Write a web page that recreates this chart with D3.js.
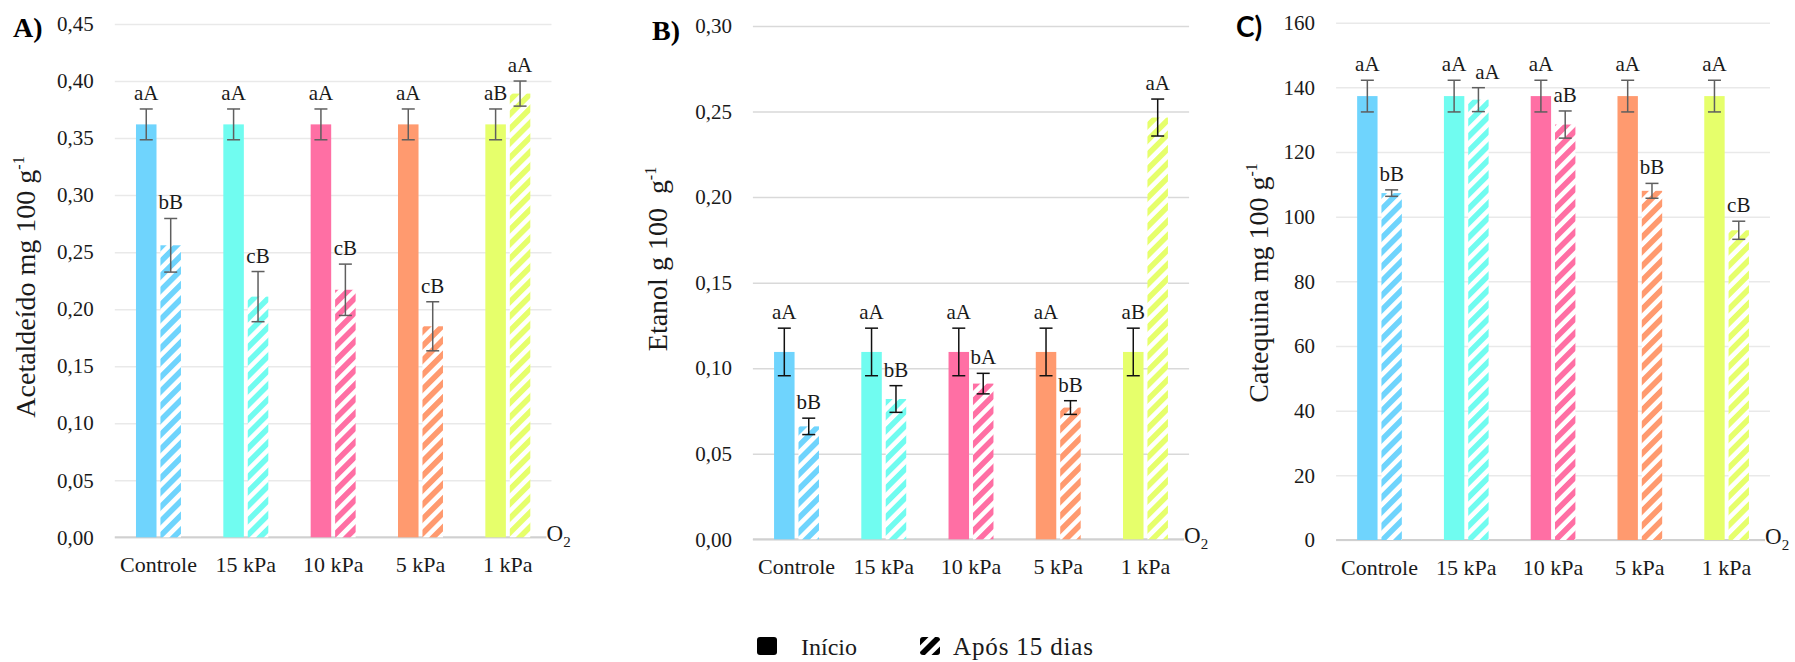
<!DOCTYPE html>
<html>
<head>
<meta charset="utf-8">
<script src="https://cdn.jsdelivr.net/npm/d3@7"></script>
<style>
  html, body { margin: 0; padding: 0; background: #fff; }
  svg text { font-family: "Liberation Serif", "Times New Roman", "DejaVu Serif", serif; }
  svg text.tag-sans { font-family: Lato, "Open Sans", sans-serif; }
</style>
</head>
<body>
<svg id="chart" width="1795" height="662"></svg>
<script>
// ---- data ----
const categories = ["Controle", "15 kPa", "10 kPa", "5 kPa", "1 kPa"];
const seriesNames = ["Início", "Após 15 dias"];
const palette = ["#6fd4fd", "#70fcf0", "#ff6fa4", "#ff9a6f", "#e6ff6b"];

// A) Acetaldeído
const acetTicks = [0, 0.05, 0.10, 0.15, 0.20, 0.25, 0.30, 0.35, 0.40, 0.45];
const acetInicio = [0.362, 0.362, 0.362, 0.362, 0.362];
const acetInicioErr = [0.0135, 0.0135, 0.0135, 0.0135, 0.0135];
const acetApos = [0.256, 0.211, 0.217, 0.185, 0.389];
const acetAposErr = [0.0235, 0.022, 0.0225, 0.0215, 0.011];
const acetInicioLetters = ["aA", "aA", "aA", "aA", "aB"];
const acetAposLetters = ["bB", "cB", "cB", "cB", "aA"];

// B) Etanol
const etanolTicks = [0, 0.05, 0.10, 0.15, 0.20, 0.25, 0.30];
const etanolInicio = [0.1095, 0.1095, 0.1095, 0.1095, 0.1095];
const etanolInicioErr = [0.0139, 0.0139, 0.0139, 0.0139, 0.0139];
const etanolApos = [0.066, 0.082, 0.091, 0.077, 0.2465];
const etanolAposErr = [0.0048, 0.0078, 0.006, 0.004, 0.0108];
const etanolInicioLetters = ["aA", "aA", "aA", "aA", "aB"];
const etanolAposLetters = ["bB", "bB", "bA", "bB", "aA"];

// C) Catequina
const catTicks = [0, 20, 40, 60, 80, 100, 120, 140, 160];
const catInicio = [137.3, 137.3, 137.3, 137.3, 137.3];
const catInicioErr = [4.9, 4.9, 4.9, 4.9, 4.9];
const catApos = [107.3, 136.2, 128.5, 108.0, 95.8];
const catAposErr = [1.0, 3.7, 4.2, 2.3, 2.8];
const catInicioLetters = ["aA", "aA", "aA", "aA", "aA"];
const catAposLetters = ["bB", "aA", "aB", "bB", "cB"];

// ---- layout ----
const svg = d3.select("#chart");
const defs = svg.append("defs");

const comma = d3.formatLocale({ decimal: ",", thousands: ".", grouping: [3], currency: ["", ""] });

const panels = [
  {
    tag: "A)", tagX: 13, tagY: 37, tagClass: "tag",
    x0: 114.8, x1: 551.5, yTop: 24, yBottom: 537.3, max: 0.45,
    ticks: acetTicks, fmt: comma.format(".2f"),
    inicio: acetInicio, inicioErr: acetInicioErr, apos: acetApos, aposErr: acetAposErr,
    inicioLetters: acetInicioLetters, aposLetters: acetAposLetters,
    title: "Acetaldeído mg 100 g", titleX: 35, titleY: 287,
    grid: "#e9e9e9", errColor: "#5f5f5f"
  },
  {
    tag: "B)", tagX: 652, tagY: 40, tagClass: "tag",
    x0: 752.9, x1: 1189.1, yTop: 26, yBottom: 539.3, max: 0.30,
    ticks: etanolTicks, fmt: comma.format(".2f"),
    inicio: etanolInicio, inicioErr: etanolInicioErr, apos: etanolApos, aposErr: etanolAposErr,
    inicioLetters: etanolInicioLetters, aposLetters: etanolAposLetters,
    title: "Etanol g 100\u00a0\u00a0g", titleX: 667, titleY: 259,
    grid: "#d9d9d9", errColor: "#111"
  },
  {
    tag: "C)", tagX: 1236, tagY: 37, tagClass: "tag tag-sans",
    x0: 1336.1, x1: 1770, yTop: 22.7, yBottom: 540, max: 160,
    ticks: catTicks, fmt: d3.format("d"),
    inicio: catInicio, inicioErr: catInicioErr, apos: catApos, aposErr: catAposErr,
    inicioLetters: catInicioLetters, aposLetters: catAposLetters,
    title: "Catequina mg 100 g", titleX: 1268, titleY: 283,
    grid: "#e9e9e9", errColor: "#5f5f5f"
  }
];

// diagonal hatch fills, one per category colour
const hatchPeriod = 10.2, hatchStripe = 5.6;
palette.forEach((c, i) => {
  const p = defs.append("pattern")
    .attr("id", "hatch" + i)
    .attr("patternUnits", "userSpaceOnUse")
    .attr("width", hatchPeriod).attr("height", hatchPeriod)
    .attr("patternTransform", "rotate(45)");
  p.append("rect").attr("width", hatchPeriod).attr("height", hatchPeriod).attr("fill", "#fff");
  p.append("rect").attr("width", hatchStripe).attr("height", hatchPeriod).attr("fill", c);
});

panels.forEach(P => {
  const g = svg.append("g");
  const x = d3.scaleBand().domain(categories).range([P.x0, P.x1]).paddingInner(0).paddingOuter(0);
  const y = d3.scaleLinear().domain([0, P.max]).range([P.yBottom, P.yTop]);
  const step = x.bandwidth();
  const barW = step * 0.235, gap = step * 0.045;

  // gridlines + tick labels
  const yAxis = d3.axisLeft(y).tickValues(P.ticks).tickFormat(P.fmt)
    .tickSize(-(P.x1 - P.x0)).tickPadding(21);
  const ya = g.append("g").attr("transform", `translate(${P.x0},0)`).call(yAxis);
  ya.select(".domain").remove();
  ya.selectAll(".tick line").attr("stroke", P.grid).attr("stroke-width", 1.5);
  ya.selectAll(".tick text").attr("font-size", 21).attr("fill", "#1a1a1a");

  // baseline
  g.append("line").attr("x1", P.x0).attr("x2", P.x1)
    .attr("y1", y(0)).attr("y2", y(0))
    .attr("stroke", "#d0d0d0").attr("stroke-width", 2);

  // category labels
  const xAxis = d3.axisBottom(x).tickSize(0).tickPadding(19);
  const xa = g.append("g").attr("transform", `translate(0,${y(0)})`).call(xAxis);
  xa.select(".domain").remove();
  xa.selectAll(".tick text").attr("font-size", 22).attr("fill", "#1a1a1a");

  const solidX = c => x(c) + step / 2 - gap / 2 - barW;
  const hatchX = c => x(c) + step / 2 + gap / 2;

  // bars: Início (solid)
  g.selectAll(".bar-ini").data(categories).join("rect")
    .attr("x", c => solidX(c)).attr("width", barW)
    .attr("y", (c, i) => y(P.inicio[i]))
    .attr("height", (c, i) => y(0) - y(P.inicio[i]))
    .attr("fill", (c, i) => palette[i]);

  // bars: Após 15 dias (hatched)
  g.selectAll(".bar-apos").data(categories).join("rect")
    .attr("x", c => hatchX(c)).attr("width", barW)
    .attr("y", (c, i) => y(P.apos[i]))
    .attr("height", (c, i) => y(0) - y(P.apos[i]))
    .attr("fill", (c, i) => `url(#hatch${i})`);

  // error bars and letters
  const capW = 13;
  const series = [
    { vals: P.inicio, errs: P.inicioErr, letters: P.inicioLetters, cx: c => solidX(c) + barW / 2 },
    { vals: P.apos, errs: P.aposErr, letters: P.aposLetters, cx: c => hatchX(c) + barW / 2 }
  ];
  const labelNodes = series.map(() => []);
  series.forEach((s, si) => {
    categories.forEach((c, i) => {
      const cx = s.cx(c);
      const top = y(s.vals[i] + s.errs[i]), bot = y(s.vals[i] - s.errs[i]);
      const eb = g.append("g").attr("stroke", P.errColor).attr("stroke-width", 1.5);
      eb.append("line").attr("x1", cx).attr("x2", cx).attr("y1", top).attr("y2", bot);
      eb.append("line").attr("x1", cx - capW / 2).attr("x2", cx + capW / 2).attr("y1", top).attr("y2", top);
      eb.append("line").attr("x1", cx - capW / 2).attr("x2", cx + capW / 2).attr("y1", bot).attr("y2", bot);
      labelNodes[si][i] = g.append("text").attr("x", cx).attr("y", top - 9)
        .attr("text-anchor", "middle").attr("font-size", 21).attr("fill", "#1a1a1a")
        .text(s.letters[i]);
    });
  });

  // keep the two letter labels of a group from running into each other:
  // the later-period label moves right until there is a clear gap
  categories.forEach((c, i) => {
    const a = labelNodes[0][i], b = labelNodes[1][i];
    const ba = a.node().getBBox(), bbx = b.node().getBBox();
    const vOverlap = ba.y < bbx.y + bbx.height && bbx.y < ba.y + ba.height;
    const hOverlap = ba.x + ba.width + 8 - bbx.x;
    if (vOverlap && hOverlap > 0) {
      b.attr("x", +b.attr("x") + hOverlap);
    }
  });

  // O2 label at the end of the category axis
  const o2 = g.append("g");
  const o2bg = o2.append("rect").attr("fill", "#fff");
  const o2t = o2.append("text").attr("x", P.x1 - 5).attr("y", y(0) + 3.5)
    .attr("font-size", 23).attr("fill", "#1a1a1a");
  o2t.append("tspan").text("O");
  o2t.append("tspan").attr("font-size", 15).attr("dy", 6).text("2");
  const bb = o2t.node().getBBox();
  o2bg.attr("x", bb.x).attr("y", bb.y).attr("width", bb.width).attr("height", bb.height);

  // y title
  const t = g.append("text")
    .attr("transform", `translate(${P.titleX},${P.titleY}) rotate(-90)`)
    .attr("text-anchor", "middle").attr("font-size", 28).attr("fill", "#1a1a1a");
  t.append("tspan").text(P.title);
  t.append("tspan").attr("font-size", 16).attr("dy", -11).text("-1");

  // panel tag
  g.append("text").attr("class", P.tagClass).attr("x", P.tagX).attr("y", P.tagY)
    .attr("font-weight", "bold").attr("font-size", 28)
    .attr("fill", "#000").text(P.tag);
});

// ---- legend ----
const lg = svg.append("g");
lg.append("rect").attr("x", 757).attr("y", 637).attr("width", 20).attr("height", 18).attr("rx", 3)
  .attr("fill", "#000");
lg.append("text").attr("x", 801).attr("y", 655).attr("font-size", 24).attr("fill", "#1a1a1a").text(seriesNames[0]);

const iconX = 920, iconY = 637, iconW = 20, iconH = 18;
defs.append("clipPath").attr("id", "legendClip")
  .append("rect").attr("x", iconX).attr("y", iconY).attr("width", iconW).attr("height", iconH).attr("rx", 3);
const hi = lg.append("g").attr("clip-path", "url(#legendClip)");
const cxI = iconX + iconW / 2, cyI = iconY + iconH / 2;
[-1, 0, 1].forEach(k => {
  const off = k * hatchPeriod * Math.SQRT2;
  hi.append("line")
    .attr("x1", cxI - 20 + off).attr("y1", cyI + 20)
    .attr("x2", cxI + 20 + off).attr("y2", cyI - 20)
    .attr("stroke", "#000").attr("stroke-width", hatchStripe);
});
lg.append("text").attr("x", 953).attr("y", 655).attr("font-size", 25)
  .attr("textLength", 140).attr("lengthAdjust", "spacing")
  .attr("fill", "#1a1a1a").text(seriesNames[1]);
</script>
</body>
</html>
